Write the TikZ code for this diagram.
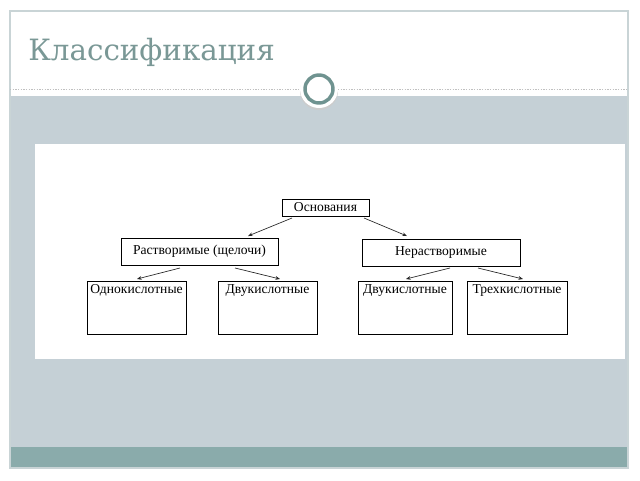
\documentclass[tikz,border=0pt]{standalone}
\usepackage{fontspec}
\setmainfont{Liberation Serif}
\newfontfamily\titlefont{DejaVu Serif}
\usetikzlibrary{arrows.meta}
\definecolor{slidegray}{HTML}{C5D0D6}
\definecolor{barteal}{HTML}{8AABAB}
\definecolor{titlecol}{HTML}{7A9896}
\definecolor{framecol}{HTML}{C9D4D6}
\definecolor{ringcol}{HTML}{6F9390}
\tikzset{
  px/.style={x=0.75pt,y=-0.75pt},
  box/.style={draw=black,line width=0.6pt,fill=white,inner sep=0pt,font=\fontsize{10.2}{12}\selectfont},
  arr/.style={draw=black!85,line width=0.5pt,-{Stealth[length=3.5pt,width=2.8pt]}},
}
\begin{document}
\begin{tikzpicture}[px]
\useasboundingbox (0,0) rectangle (640,480);
\fill[white] (0,0) rectangle (640,480);
% slide frame
\fill[slidegray] (10,96) rectangle (628,447);
\fill[barteal] (10,447) rectangle (628,468);
\draw[framecol,line width=0.8pt] (10,11) rectangle (628,468);
\draw[black!25,dash pattern=on 1pt off 1pt,line width=0.4pt] (10,89) -- (628,89);
% title
\node[anchor=base west,text=titlecol,font=\fontsize{22}{26}\titlefont,inner sep=0pt] (title) at (28,60) {Классификация};
% ornament circle
\fill[black!20] (319,91) circle (19);
\fill[white] (319,89) circle (19);
\draw[ringcol,line width=2.6pt] (319,89) circle (14);
% content image
\fill[white] (35,144) rectangle (625,359);
% nodes
\node[box,minimum width=87*0.75pt,minimum height=17*0.75pt] (osn) at (325.5,207.5) {Основания};
\node[box,minimum width=157*0.75pt,minimum height=27*0.75pt] (rast) at (199.5,251.5) {Растворимые (щелочи)};
\node[box,minimum width=158*0.75pt,minimum height=27*0.75pt] (nerast) at (441,252.5) {Нерастворимые};
\draw[line width=0.6pt] (87,281) rectangle (186,334);
\draw[line width=0.6pt] (218,281) rectangle (317,334);
\draw[line width=0.6pt] (358,281) rectangle (452,334);
\draw[line width=0.6pt] (467,281) rectangle (567,334);
\node[box,draw=none,fill=none,anchor=north] (odn) at (136.5,284) {Однокислотные};
\node[box,draw=none,fill=none,anchor=north] (dvu1) at (267.5,284) {Двукислотные};
\node[box,draw=none,fill=none,anchor=north] (dvu2) at (405,284) {Двукислотные};
\node[box,draw=none,fill=none,anchor=north] (tre) at (517,284) {Трехкислотные};
% arrows
\coordinate (a1s) at (292,218); \coordinate (a1e) at (248,236);
\coordinate (a2s) at (364,218); \coordinate (a2e) at (407,236);
\coordinate (b1s) at (180,268); \coordinate (b1e) at (137,279);
\coordinate (b2s) at (235,268); \coordinate (b2e) at (280,279);
\coordinate (c1s) at (450,268); \coordinate (c1e) at (406,279);
\coordinate (c2s) at (478,268); \coordinate (c2e) at (523,279);
\draw[arr] (a1s) -- (a1e);
\draw[arr] (a2s) -- (a2e);
\draw[arr] (b1s) -- (b1e);
\draw[arr] (b2s) -- (b2e);
\draw[arr] (c1s) -- (c1e);
\draw[arr] (c2s) -- (c2e);
\end{tikzpicture}
\end{document}
